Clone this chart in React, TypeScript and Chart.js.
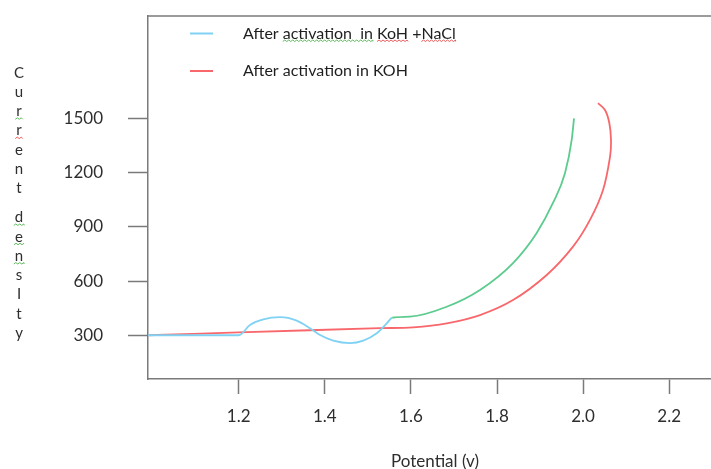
import React, { useEffect, useRef } from "react";
import { Chart, registerables } from "chart.js";

Chart.register(...registerables);

// ---- data ----
const xTickValues = [1.2, 1.4, 1.6, 1.8, 2.0, 2.2];
const yTickValues = [300, 600, 900, 1200, 1500];

const naclLabel = "After activation  in KoH +NaCl";
const kohLabel = "After activation in KOH";

// After activation in KoH + NaCl (blue, turns green above ~1.557 V)
const naclPotential = [0.989, 1.2, 1.2262, 1.2571, 1.2959, 1.3347, 1.3656, 1.3889, 1.4197, 1.4585, 1.4894, 1.5206, 1.5438, 1.5568, 1.5979, 1.6832, 1.7605, 1.8372, 1.8922, 1.93, 1.958, 1.9735, 1.9789];
const naclCurrent = [300, 300, 357, 388, 400, 381, 339, 301, 270, 256, 270, 311, 366, 397, 403, 458, 551, 700, 867, 1033, 1199, 1382, 1502];
const naclGreenFrom = 1.5568;

// After activation in KOH (red)
const kohPotential = [0.989, 1.2, 1.528, 1.605, 1.6832, 1.7605, 1.8372, 1.9155, 1.9766, 2.016, 2.0463, 2.0626, 2.0648, 2.0609, 2.0509, 2.0346];
const kohCurrent = [300, 316, 339, 344, 366, 412, 495, 634, 791, 939, 1105, 1290, 1382, 1476, 1548, 1586];

const xMin = 0.9893;
const xMax = 2.2971;
const yMin = 57.6;
const yMax = 2069;

const yTitleText = "Current densIty";
const xTitleText = "Potential (v)";

// ---- styles ----
const FONT = "Lato, 'Open Sans', 'Noto Sans', sans-serif";
const BLUE = "#7fd2f4";
const GREEN = "#5ccb8e";
const RED = "#f8676b";
const AXIS = "#7a7a7a";
const TEXT = "#2e2e2e";
const SQ_GREEN = "#5fb85f";
const SQ_RED = "#e65a5a";

function squiggle(ctx: CanvasRenderingContext2D, x1: number, x2: number, y: number, color: string) {
  ctx.save();
  ctx.beginPath();
  ctx.strokeStyle = color;
  ctx.lineWidth = 1;
  ctx.moveTo(x1, y);
  let up = true;
  for (let x = x1; x < x2; x += 2) {
    ctx.lineTo(Math.min(x + 2, x2), up ? y - 1.5 : y);
    up = !up;
  }
  ctx.stroke();
  ctx.restore();
}

const decorPlugin = {
  id: "decor",
  afterDraw(chart: any) {
    const { ctx, chartArea } = chart;
    ctx.save();
    // top border of the frame
    ctx.strokeStyle = AXIS;
    ctx.lineWidth = 1.5;
    ctx.beginPath();
    ctx.moveTo(chartArea.left, chartArea.top);
    ctx.lineTo(chartArea.right, chartArea.top);
    ctx.stroke();

    // legend
    const items = [
      { label: naclLabel, color: BLUE, y: 33.5 },
      { label: kohLabel, color: RED, y: 71 },
    ];
    ctx.font = `16px ${FONT}`;
    ctx.textBaseline = "middle";
    ctx.textAlign = "left";
    items.forEach((it) => {
      ctx.strokeStyle = it.color;
      ctx.lineWidth = 2;
      ctx.beginPath();
      ctx.moveTo(190, it.y);
      ctx.lineTo(213, it.y);
      ctx.stroke();
      ctx.fillStyle = "#1e1e1e";
      ctx.fillText(it.label, 243, it.y);
    });
    // spell-check squiggles under first legend entry
    {
      const tx = 243;
      const sy = items[0].y + 8;
      const m = (s: string) => ctx.measureText(s).width;
      const a0 = tx + m("After ");
      const a1 = tx + m("After activation  in");
      squiggle(ctx, a0, a1, sy, SQ_GREEN);
      const k0 = tx + m("After activation  in ");
      const k1 = tx + m("After activation  in KoH");
      squiggle(ctx, k0, k1, sy, SQ_RED);
      const n0 = tx + m("After activation  in KoH +");
      const n1 = tx + m(naclLabel);
      squiggle(ctx, n0, n1, sy, SQ_RED);
    }

    // vertical stacked y title
    ctx.font = `15px ${FONT}`;
    ctx.fillStyle = TEXT;
    ctx.textAlign = "center";
    let ly = 72.7;
    const step = 19.3;
    const letters = yTitleText.split("");
    letters.forEach((ch, i) => {
      if (ch === " ") {
        ly += step * 0.5;
        return;
      }
      ctx.fillText(ch, 19, ly);
      const w = ctx.measureText(ch).width;
      const greenIdx = [2, 8, 9, 10];
      const redIdx = [3];
      if (greenIdx.includes(i)) squiggle(ctx, 19 - w / 2 - 1, 19 + w / 2 + 1, ly + 8, SQ_GREEN);
      if (redIdx.includes(i)) squiggle(ctx, 19 - w / 2 - 1, 19 + w / 2 + 1, ly + 8, SQ_RED);
      ly += step;
    });

    // x title
    ctx.font = `17px ${FONT}`;
    ctx.textAlign = "center";
    ctx.fillStyle = TEXT;
    ctx.fillText(xTitleText, 435, 461.5);
    ctx.restore();
  },
};

export default function App() {
  const ref = useRef<HTMLCanvasElement | null>(null);
  useEffect(() => {
    document.body.style.margin = "0";
    const canvas = ref.current;
    if (!canvas) return;
    const chart = new Chart(canvas, {
      type: "line",
      data: {
        datasets: [
          {
            label: naclLabel,
            data: naclPotential.map((x, i) => ({ x, y: naclCurrent[i] })),
            borderColor: BLUE,
            borderWidth: 1.8,
            pointRadius: 0,
            cubicInterpolationMode: "monotone",
            tension: 0.4,
            fill: false,
            segment: {
              borderColor: (c: any) => (c.p0.parsed.x >= naclGreenFrom - 1e-6 ? GREEN : BLUE),
            },
          },
          {
            label: kohLabel,
            data: kohPotential.map((x, i) => ({ x, y: kohCurrent[i] })),
            borderColor: RED,
            borderWidth: 1.8,
            pointRadius: 0,
            tension: 0.35,
            fill: false,
          },
        ],
      },
      options: {
        animation: false,
        responsive: false,
        layout: { padding: { top: 16, right: 0, left: 0, bottom: 0 } },
        plugins: {
          legend: { display: false },
          tooltip: { enabled: false },
          title: { display: false },
        },
        scales: {
          x: {
            type: "linear",
            min: xMin,
            max: xMax,
            afterBuildTicks: (s: any) => {
              s.ticks = xTickValues.map((v) => ({ value: v }));
            },
            afterFit: (s: any) => {
              s.height = 90;
              s.paddingLeft = 0;
              s.paddingRight = 0;
            },
            border: { display: true, color: AXIS, width: 1.5 },
            grid: {
              display: true,
              drawOnChartArea: false,
              drawTicks: true,
              tickLength: 15,
              tickColor: AXIS,
              tickWidth: 1.5,
              color: AXIS,
            },
            ticks: {
              autoSkip: false,
              maxRotation: 0,
              padding: 12,
              color: TEXT,
              font: { family: FONT, size: 17 },
              callback: (v: any) => Number(v).toFixed(1),
            },
          },
          y: {
            type: "linear",
            min: yMin,
            max: yMax,
            afterBuildTicks: (s: any) => {
              s.ticks = yTickValues.map((v) => ({ value: v }));
            },
            afterFit: (s: any) => {
              s.width = 148;
              s.paddingTop = 0;
              s.paddingBottom = 0;
            },
            border: { display: true, color: AXIS, width: 1.5 },
            grid: {
              display: true,
              drawOnChartArea: false,
              drawTicks: true,
              tickLength: 20,
              tickColor: AXIS,
              tickWidth: 1.5,
              color: AXIS,
            },
            ticks: {
              autoSkip: false,
              padding: 25,
              color: TEXT,
              font: { family: FONT, size: 17 },
              callback: (v: any) => String(v),
            },
          },
        },
      },
      plugins: [decorPlugin],
    });
    return () => chart.destroy();
  }, []);
  return (
    <div style={{ width: 711, height: 469 }}>
      <canvas ref={ref} width={711} height={469} style={{ display: "block" }} />
    </div>
  );
}
